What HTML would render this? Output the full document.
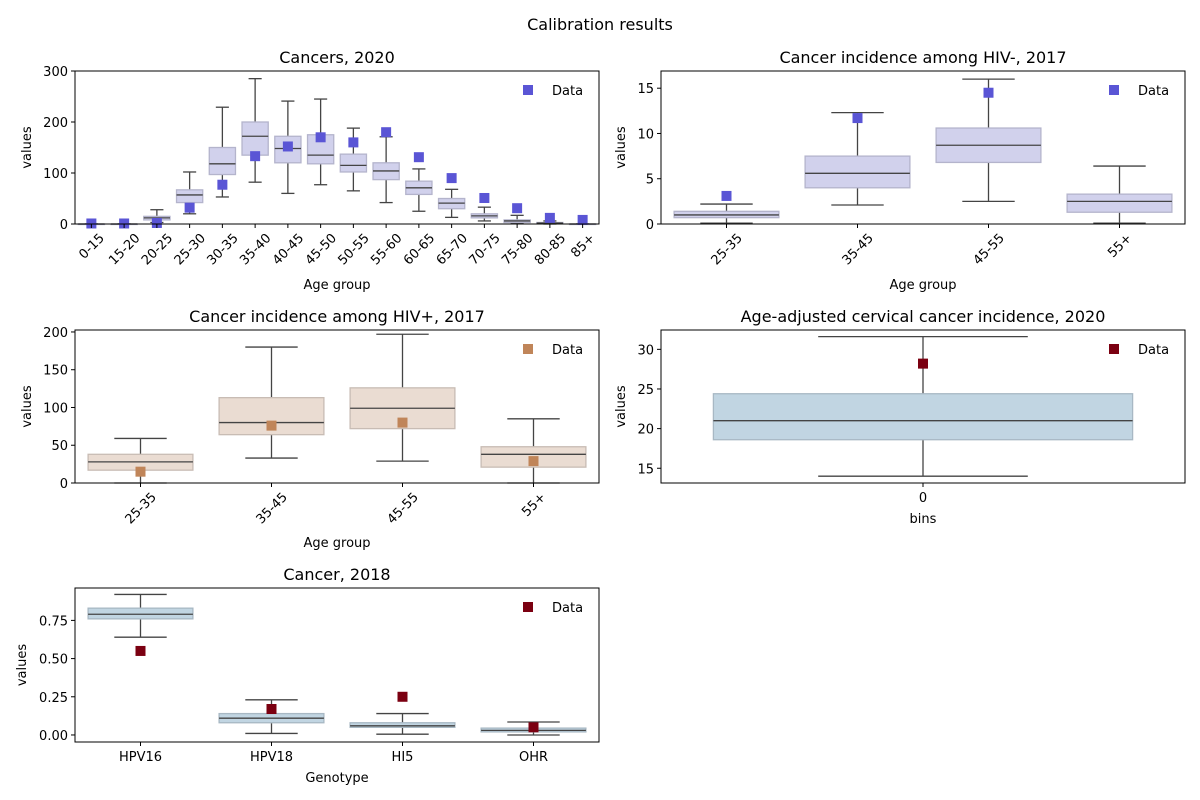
<!DOCTYPE html>
<html><head><meta charset="utf-8">
<style>
body{margin:0;background:#fff;}
svg{display:block;font-family:"DejaVu Sans","Liberation Sans",sans-serif;}
</style></head>
<body>
<svg id="fig" width="1200" height="800" viewBox="0 0 1200 800">
<text x="600" y="30" text-anchor="middle" font-size="16">Calibration results</text>
</svg>
<script>
// Chart 1: Cancers, 2020
const c1Cats = ["0-15","15-20","20-25","25-30","30-35","35-40","40-45","45-50","50-55","55-60","60-65","65-70","70-75","75-80","80-85","85+"];
const c1Lo  = [0,0,3,20,53,82,60,77,65,42,25,13,6,1,0,0];
const c1Q1  = [0,0,8,42,97,135,120,118,102,87,58,30,12,3,1,0];
const c1Med = [0,0,12,57,118,172,148,135,115,104,71,41,16,6,2,0];
const c1Q3  = [0,0,15,67,150,200,172,175,137,120,84,50,20,8,3,0];
const c1Hi  = [0,0,28,102,229,285,241,245,188,171,108,68,33,17,6,0];
const c1Data = [1,1,2,32,77,133,152,170,160,180,131,90,51,31,12,8];
const c1Ticks = [0,100,200,300];
// Chart 2: HIV-
const c2Cats = ["25-35","35-45","45-55","55+"];
const c2Lo  = [0.1,2.1,2.5,0.1];
const c2Q1  = [0.7,4.0,6.8,1.3];
const c2Med = [1.0,5.6,8.7,2.5];
const c2Q3  = [1.4,7.5,10.6,3.3];
const c2Hi  = [2.2,12.3,16.0,6.4];
const c2Data = [3.1,11.7,14.5,null];
const c2Ticks = [0,5,10,15];
// Chart 3: HIV+
const c3Cats = ["25-35","35-45","45-55","55+"];
const c3Lo  = [0,33,29,0];
const c3Q1  = [17,64,72,21];
const c3Med = [28,80,99,38];
const c3Q3  = [38,113,126,48];
const c3Hi  = [59,180,197,85];
const c3Data = [15,76,80,29];
const c3Ticks = [0,50,100,150,200];
// Chart 4: age-adjusted
const c4Cats = ["0"];
const c4Lo = [14.0], c4Q1 = [18.6], c4Med = [21.0], c4Q3 = [24.4], c4Hi = [31.6];
const c4Data = [28.2];
const c4Ticks = [15,20,25,30];
// Chart 5: Cancer 2018
const c5Cats = ["HPV16","HPV18","HI5","OHR"];
const c5Lo  = [0.64,0.01,0.005,0.0];
const c5Q1  = [0.76,0.08,0.05,0.02];
const c5Med = [0.79,0.11,0.06,0.03];
const c5Q3  = [0.83,0.14,0.08,0.045];
const c5Hi  = [0.92,0.23,0.14,0.085];
const c5Data = [0.55,0.17,0.25,0.05];
const c5Ticks = [0.00,0.25,0.50,0.75];

const NS="http://www.w3.org/2000/svg";
const fig=document.getElementById('fig');
function mk(tag,attrs,parent){const e=document.createElementNS(NS,tag);for(const k in attrs)e.setAttribute(k,attrs[k]);(parent||fig).appendChild(e);return e;}

function chart(o){
  const g=mk('g',{});
  
  
  const L=o.x0,R=o.x1,T=o.y0,B=o.y1;
  const y=v=>B-(v-o.ymin)/(o.ymax-o.ymin)*(B-T);
  const bw=(R-L)/o.cats.length;
  const xc=i=>L+bw*(i+0.5);
  const t=mk('text',{x:(L+R)/2,y:T-8,'text-anchor':'middle','font-size':16},g);t.textContent=o.title;
  
  
  o.ticks.forEach(v=>{
    const yy=y(v);
    mk('line',{x1:L-4,x2:L,y1:yy,y2:yy,stroke:'#000'},g);
    const tt=mk('text',{x:L-7,y:yy+5,'text-anchor':'end','font-size':13},g);tt.textContent=o.fmt?o.fmt(v):v;
    
    
  });
  const yl=mk('text',{x:0,y:0,'text-anchor':'middle','font-size':13,transform:`translate(${o.ylabX},${(T+B)/2}) rotate(-90)`},g);yl.textContent='values';
  
  
  const bwid=bw*o.boxFrac, cap=bwid/2;
  o.cats.forEach((c,i)=>{
    const cx=xc(i);
    const bg=mk('g',{},g);
    
    
    mk('line',{x1:cx,x2:cx,y1:y(o.hi[i]),y2:y(o.q3[i]),stroke:'#444','stroke-width':1.3},bg);
    mk('line',{x1:cx,x2:cx,y1:y(o.q1[i]),y2:y(o.lo[i]),stroke:'#444','stroke-width':1.3},bg);
    mk('line',{x1:cx-cap/2,x2:cx+cap/2,y1:y(o.hi[i]),y2:y(o.hi[i]),stroke:'#444','stroke-width':1.3},bg);
    mk('line',{x1:cx-cap/2,x2:cx+cap/2,y1:y(o.lo[i]),y2:y(o.lo[i]),stroke:'#444','stroke-width':1.3},bg);
    mk('rect',{x:cx-bwid/2,y:y(o.q3[i]),width:bwid,height:Math.max(0.5,y(o.q1[i])-y(o.q3[i])),fill:o.fill,stroke:o.edge,'stroke-width':1.3},bg);
    mk('line',{x1:cx-bwid/2,x2:cx+bwid/2,y1:y(o.med[i]),y2:y(o.med[i]),stroke:'#444','stroke-width':1.3},bg);
    if(o.data[i]!=null){
      const m=mk('rect',{x:cx-5,y:y(o.data[i])-5,width:10,height:10,fill:o.mark},g);
      
      
    }
    mk('line',{x1:cx,x2:cx,y1:B,y2:B+4,stroke:'#000'},g);
    let tl;
    if(o.rot){
      tl=mk('text',{x:0,y:4.5,'text-anchor':'middle','font-size':13},g);
      tl.textContent=c;
      const w=tl.getComputedTextLength();
      const h=13;
      const cy=B+7+(w+h)/(2*Math.SQRT2);
      tl.setAttribute('transform',`translate(${cx},${cy}) rotate(-45)`);
    } else {
      tl=mk('text',{x:cx,y:B+19,'text-anchor':'middle','font-size':13},g);
      tl.textContent=c;
    }
    
    
  });
  mk('rect',{x:L,y:T,width:R-L,height:B-T,fill:'none',stroke:'#000','stroke-width':1},g);
  const xl=mk('text',{x:(L+R)/2,y:o.xlabY,'text-anchor':'middle','font-size':13},g);xl.textContent=o.xlabel;
  
  
  const lg=mk('g',{},g);
  
  
  mk('rect',{x:R-76,y:T+14,width:10,height:10,fill:o.mark},lg);
  const lt=mk('text',{x:R-47,y:T+24,'font-size':13},lg);lt.textContent='Data';
}

const blue={fill:'#d1d1ec',edge:'#b4b4cc',mark:'#5a55d5'};
const tan={fill:'#eadcd2',edge:'#c8bcb4',mark:'#c08559'};
const steel={fill:'#c1d5e2',edge:'#a8b8c4',mark:'#7b0011'};

chart(Object.assign({name:'chart-cancers-2020',title:'Cancers, 2020',x0:75,x1:599,y0:71,y1:224,ymin:0,ymax:300,cats:c1Cats,lo:c1Lo,q1:c1Q1,med:c1Med,q3:c1Q3,hi:c1Hi,data:c1Data,ticks:c1Ticks,boxFrac:0.8,rot:true,xlabel:'Age group',xlabY:289,ylabX:31},blue));
chart(Object.assign({name:'chart-hiv-negative',title:'Cancer incidence among HIV-, 2017',x0:661,x1:1185,y0:71,y1:224,ymin:0,ymax:16.9,cats:c2Cats,lo:c2Lo,q1:c2Q1,med:c2Med,q3:c2Q3,hi:c2Hi,data:c2Data,ticks:c2Ticks,boxFrac:0.8,rot:true,xlabel:'Age group',xlabY:289,ylabX:625},blue));
chart(Object.assign({name:'chart-hiv-positive',title:'Cancer incidence among HIV+, 2017',x0:75,x1:599,y0:330,y1:483,ymin:0,ymax:202.6,cats:c3Cats,lo:c3Lo,q1:c3Q1,med:c3Med,q3:c3Q3,hi:c3Hi,data:c3Data,ticks:c3Ticks,boxFrac:0.8,rot:true,xlabel:'Age group',xlabY:547,ylabX:31},tan));
chart(Object.assign({name:'chart-age-adjusted',title:'Age-adjusted cervical cancer incidence, 2020',x0:661,x1:1185,y0:330,y1:483,ymin:13.14,ymax:32.44,cats:c4Cats,lo:c4Lo,q1:c4Q1,med:c4Med,q3:c4Q3,hi:c4Hi,data:c4Data,ticks:c4Ticks,boxFrac:0.8,rot:false,xlabel:'bins',xlabY:523,ylabX:625},steel));
chart(Object.assign({name:'chart-cancer-2018',title:'Cancer, 2018',x0:75,x1:599,y0:588,y1:742,ymin:-0.046,ymax:0.962,cats:c5Cats,lo:c5Lo,q1:c5Q1,med:c5Med,q3:c5Q3,hi:c5Hi,data:c5Data,ticks:c5Ticks,boxFrac:0.8,rot:false,fmt:v=>v.toFixed(2),xlabel:'Genotype',xlabY:782,ylabX:26},steel));
</script>
</body></html>
